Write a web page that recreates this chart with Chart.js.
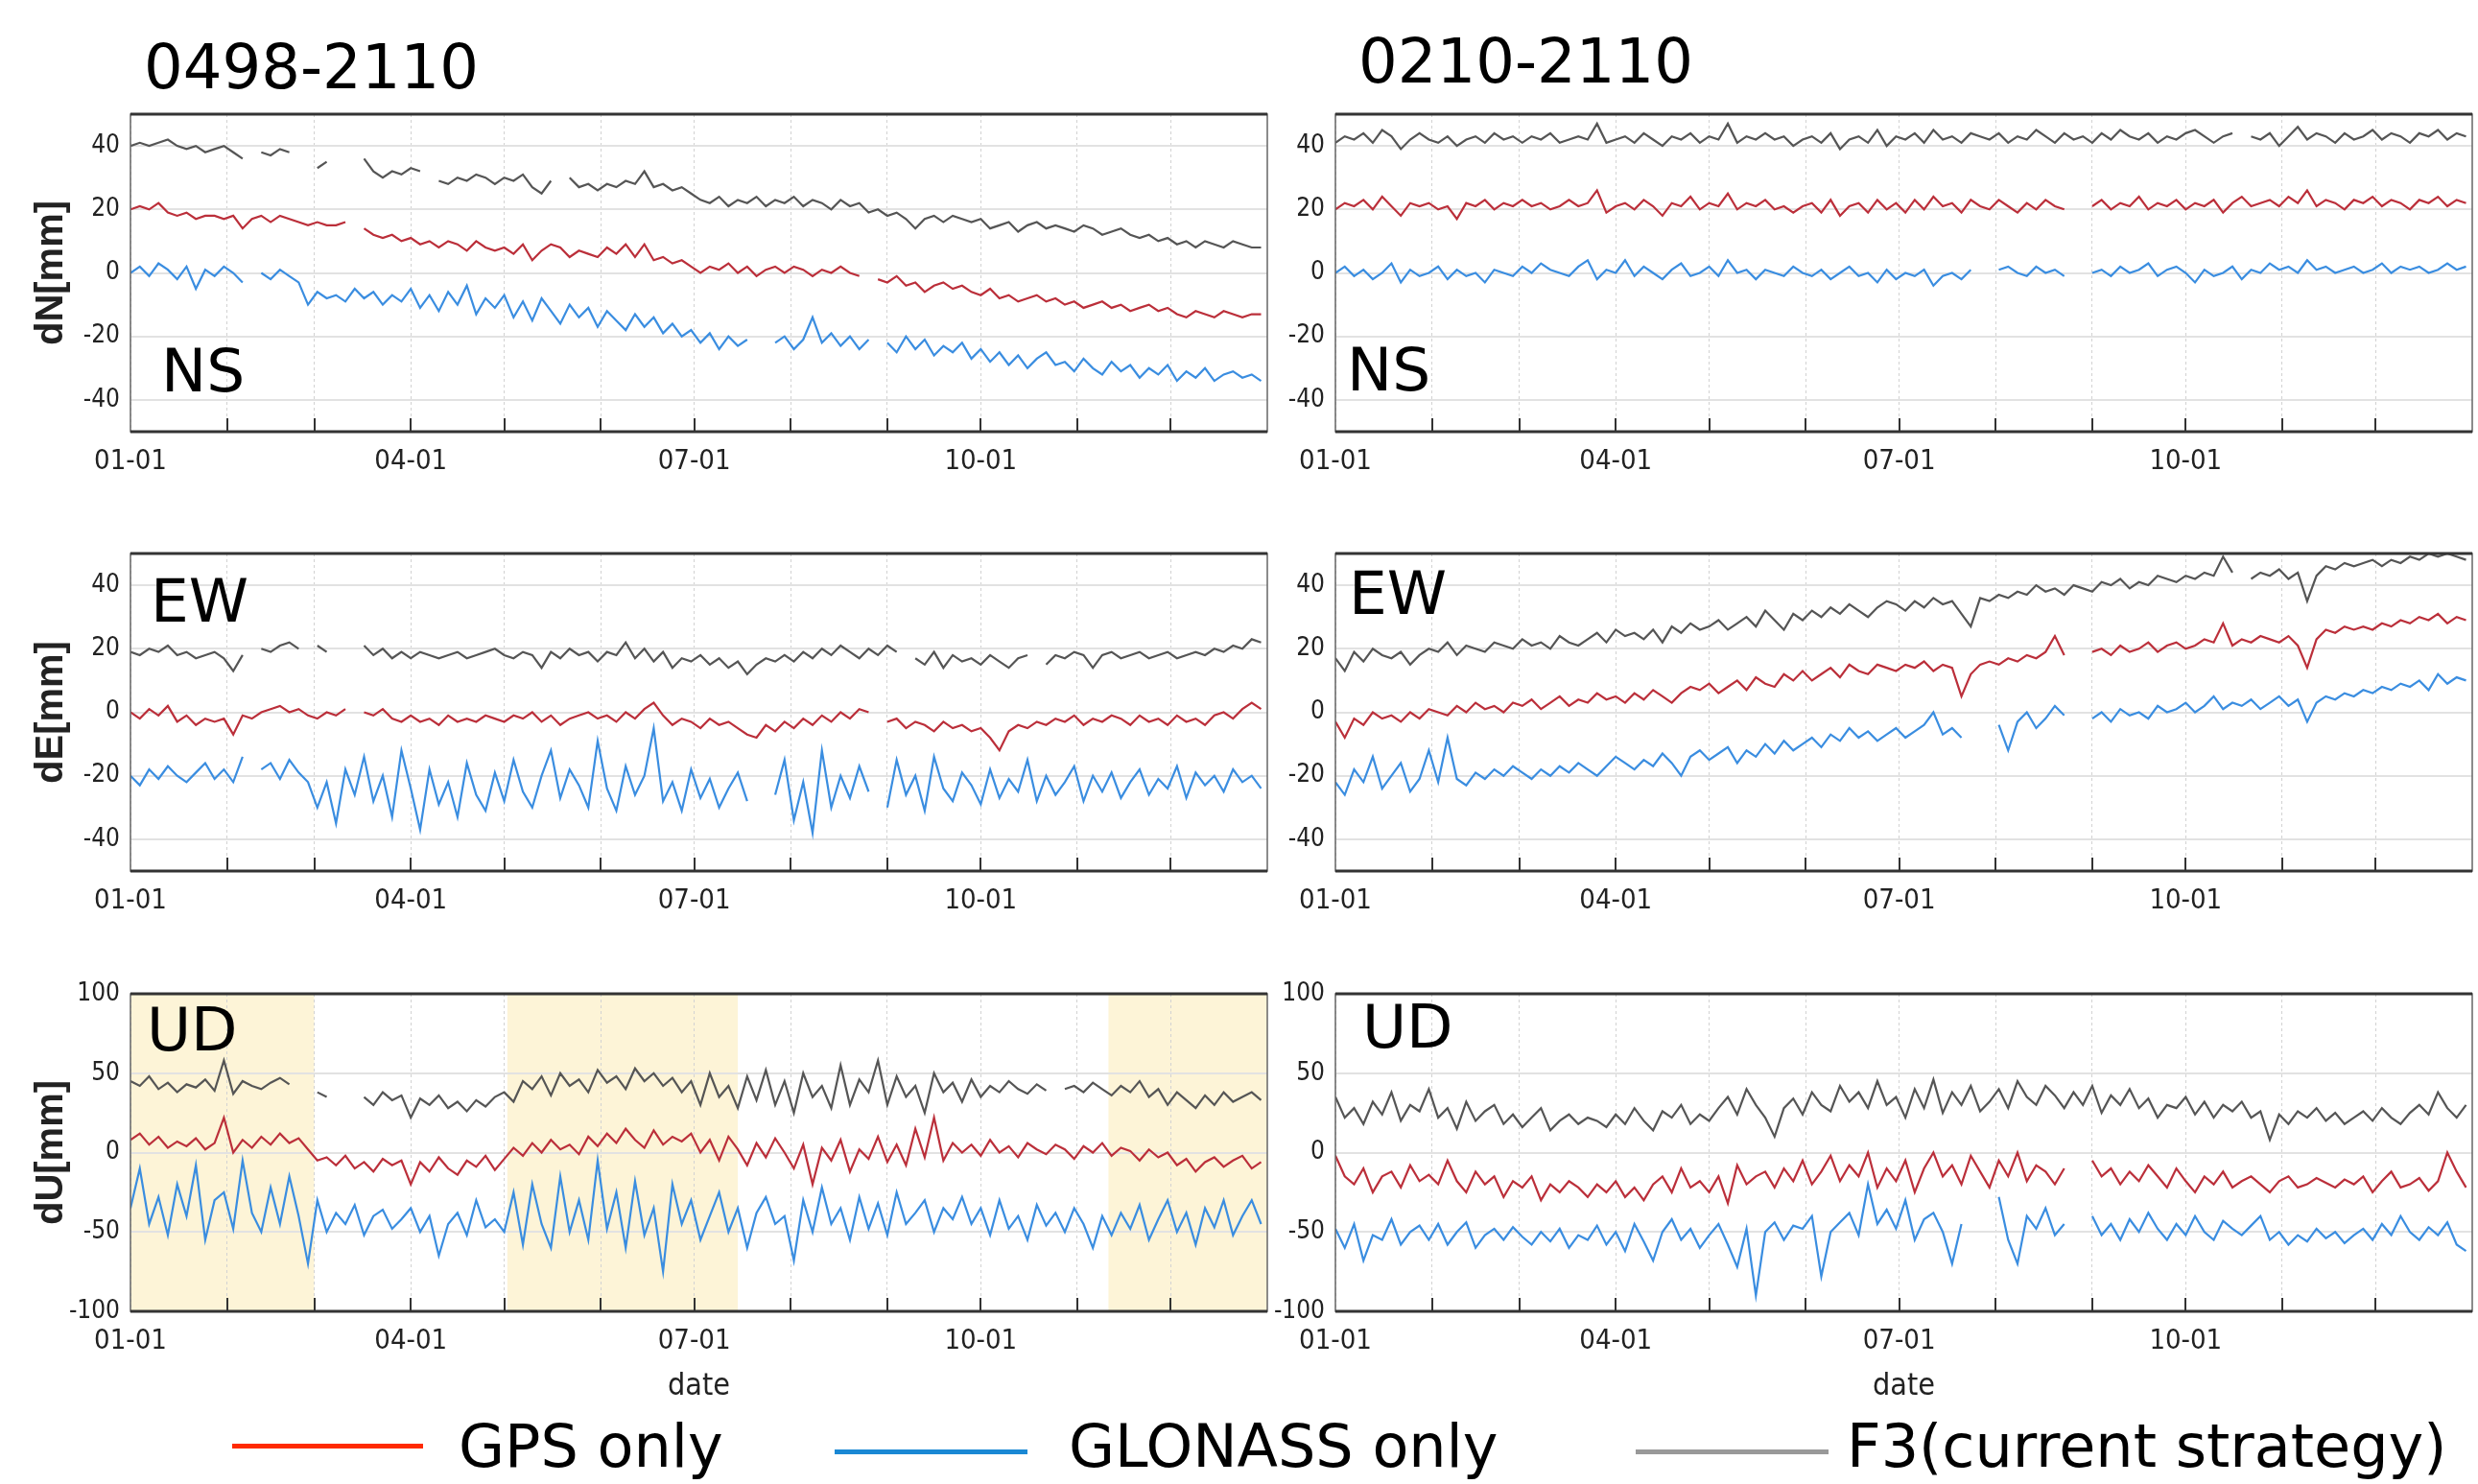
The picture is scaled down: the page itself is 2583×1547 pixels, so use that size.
<!DOCTYPE html>
<html>
<head>
<meta charset="utf-8">
<script src="https://cdn.jsdelivr.net/npm/chart.js@4.4.1/dist/chart.umd.min.js"></script>
<style>
  html, body { margin: 0; padding: 0; background: #fff; }
  body { position: relative; width: 2583px; height: 1547px; overflow: hidden; }
  canvas { position: absolute; }
  .txt { position: absolute; font-family: 'DejaVu Sans', Verdana, sans-serif; line-height: 1; color: #000; white-space: nowrap; z-index: 5; }
  .title { font-size: 64px; }
  .lab { font-size: 63px; }
  .leg { font-size: 62px; }
  .swatch { position: absolute; height: 5px; z-index: 5; }
</style>
</head>
<body>
<div class="txt title" style="left:150px;top:38px">0498-2110</div>
<div class="txt title" style="left:1416px;top:32px">0210-2110</div>

<div class="txt lab" style="left:168px;top:355px">NS</div>
<div class="txt lab" style="left:1404px;top:354px">NS</div>
<div class="txt lab" style="left:157px;top:595px">EW</div>
<div class="txt lab" style="left:1406px;top:587px">EW</div>
<div class="txt lab" style="left:153px;top:1042px">UD</div>
<div class="txt lab" style="left:1420px;top:1039px">UD</div>

<div class="swatch" style="left:242px;top:1505px;width:199px;background:#ff2a00"></div>
<div class="txt leg" style="left:478px;top:1477px">GPS only</div>
<div class="swatch" style="left:870px;top:1511px;width:201px;background:#1a88d4"></div>
<div class="txt leg" style="left:1114px;top:1477px">GLONASS only</div>
<div class="swatch" style="left:1705px;top:1511px;width:201px;background:#999"></div>
<div class="txt leg" style="left:1925px;top:1477px">F3(current strategy)</div>

<script>
// day of year (every third day)
const days = [
  0,3,6,9,12,15,18,21,24,27,
  30,33,36,39,42,45,48,51,54,57,
  60,63,66,69,72,75,78,81,84,87,
  90,93,96,99,102,105,108,111,114,117,
  120,123,126,129,132,135,138,141,144,147,
  150,153,156,159,162,165,168,171,174,177,
  180,183,186,189,192,195,198,201,204,207,
  210,213,216,219,222,225,228,231,234,237,
  240,243,246,249,252,255,258,261,264,267,
  270,273,276,279,282,285,288,291,294,297,
  300,303,306,309,312,315,318,321,324,327,
  330,333,336,339,342,345,348,351,354,357,
  360,363
];
const monthStarts = [0,31,59,90,120,151,181,212,243,273,304,334];
const quarterLabels = {0: '01-01', 90: '04-01', 181: '07-01', 273: '10-01'};
const neTicks = [-40,-20,0,20,40];
const udTicks = [-100,-50,0,50,100];
const udBandsA = [[0,59],[121,195],[314,365]];

// ---- 0498-2110 ----
const nsF3A = [
  40,41,40,41,42,40,39,40,38,39,
  40,38,36,null,38,37,39,38,null,null,
  33,35,null,null,null,36,32,30,32,31,
  33,32,null,29,28,30,29,31,30,28,
  30,29,31,27,25,29,null,30,27,28,
  26,28,27,29,28,32,27,28,26,27,
  25,23,22,24,21,23,22,24,21,23,
  22,24,21,23,22,20,23,21,22,19,
  20,18,19,17,14,17,18,16,18,17,
  16,17,14,15,16,13,15,16,14,15,
  14,13,15,14,12,13,14,12,11,12,
  10,11,9,10,8,10,9,8,10,9,
  8,8
];
const nsGpsA = [
  20,21,20,22,19,18,19,17,18,18,
  17,18,14,17,18,16,18,17,16,15,
  16,15,15,16,null,14,12,11,12,10,
  11,9,10,8,10,9,7,10,8,7,
  8,6,9,4,7,9,8,5,7,6,
  5,8,6,9,5,9,4,5,3,4,
  2,0,2,1,3,0,2,-1,1,2,
  0,2,1,-1,1,0,2,0,-1,null,
  -2,-3,-1,-4,-3,-6,-4,-3,-5,-4,
  -6,-7,-5,-8,-7,-9,-8,-7,-9,-8,
  -10,-9,-11,-10,-9,-11,-10,-12,-11,-10,
  -12,-11,-13,-14,-12,-13,-14,-12,-13,-14,
  -13,-13
];
const nsGloA = [
  0,2,-1,3,1,-2,2,-5,1,-1,
  2,0,-3,null,0,-2,1,-1,-3,-10,
  -6,-8,-7,-9,-5,-8,-6,-10,-7,-9,
  -5,-11,-7,-12,-6,-10,-4,-13,-8,-11,
  -7,-14,-9,-15,-8,-12,-16,-10,-14,-11,
  -17,-12,-15,-18,-13,-17,-14,-19,-16,-20,
  -18,-22,-19,-24,-20,-23,-21,null,null,-22,
  -20,-24,-21,-14,-22,-19,-23,-20,-24,-21,
  null,-22,-25,-20,-24,-21,-26,-23,-25,-22,
  -27,-24,-28,-25,-29,-26,-30,-27,-25,-29,
  -28,-31,-27,-30,-32,-28,-31,-29,-33,-30,
  -32,-29,-34,-31,-33,-30,-34,-32,-31,-33,
  -32,-34
];
const ewF3A = [
  19,18,20,19,21,18,19,17,18,19,
  17,13,18,null,20,19,21,22,20,null,
  21,19,null,null,null,21,18,20,17,19,
  17,19,18,17,18,19,17,18,19,20,
  18,17,19,18,14,19,17,20,18,19,
  16,19,18,22,17,20,16,19,14,17,
  16,18,15,17,14,16,12,15,17,16,
  18,16,19,17,20,18,21,19,17,20,
  18,21,19,null,17,15,19,14,18,16,
  17,15,18,16,14,17,18,null,15,18,
  17,19,18,14,18,19,17,18,19,17,
  18,19,17,18,19,18,20,19,21,20,
  23,22
];
const ewGpsA = [
  0,-2,1,-1,2,-3,-1,-4,-2,-3,
  -2,-7,-1,-2,0,1,2,0,1,-1,
  -2,0,-1,1,null,0,-1,1,-2,-3,
  -1,-3,-2,-4,-1,-3,-2,-3,-1,-2,
  -3,-1,-2,0,-3,-1,-4,-2,-1,0,
  -2,-1,-3,0,-2,1,3,-1,-4,-2,
  -3,-5,-2,-4,-3,-5,-7,-8,-4,-6,
  -3,-5,-2,-4,-1,-3,0,-2,1,0,
  null,-3,-2,-5,-3,-4,-6,-3,-5,-4,
  -6,-5,-8,-12,-6,-4,-5,-3,-4,-2,
  -3,-1,-4,-2,-3,-1,-2,-4,-1,-3,
  -2,-4,-1,-3,-2,-4,-1,0,-2,1,
  3,1
];
const ewGloA = [
  -20,-23,-18,-21,-17,-20,-22,-19,-16,-21,
  -18,-22,-14,null,-18,-16,-21,-15,-19,-22,
  -30,-22,-35,-18,-26,-14,-28,-20,-33,-12,
  -24,-37,-18,-29,-22,-33,-16,-26,-31,-19,
  -28,-15,-25,-30,-20,-12,-27,-18,-23,-30,
  -9,-24,-31,-17,-26,-20,-5,-28,-22,-31,
  -18,-27,-21,-30,-24,-19,-28,null,null,-26,
  -15,-34,-22,-38,-12,-30,-20,-27,-17,-25,
  null,-30,-15,-26,-20,-31,-14,-24,-28,-19,
  -23,-29,-18,-27,-21,-25,-15,-28,-20,-26,
  -22,-17,-28,-20,-25,-19,-27,-22,-18,-26,
  -21,-24,-17,-27,-19,-23,-20,-25,-18,-22,
  -20,-24
];
const udF3A = [
  45,42,48,40,44,38,43,41,46,39,
  58,37,45,42,40,44,47,43,null,null,
  38,35,null,null,null,35,30,38,33,36,
  22,34,30,36,28,32,26,33,29,35,
  38,32,45,40,48,36,50,42,46,38,
  52,44,48,40,53,45,50,42,47,38,
  45,30,50,35,42,28,48,33,52,30,
  45,25,50,35,42,28,55,30,46,38,
  58,30,48,35,42,25,50,38,44,32,
  46,35,42,38,45,40,37,43,39,null,
  40,42,38,44,40,36,42,38,45,35,
  40,30,38,33,28,36,30,38,32,35,
  38,33
];
const udGpsA = [
  8,12,5,10,3,7,4,9,2,6,
  22,0,8,3,10,5,12,6,9,2,
  -5,-3,-8,-2,-10,-6,-12,-4,-8,-5,
  -20,-6,-12,-3,-10,-14,-5,-9,-2,-11,
  -4,3,-2,6,0,8,2,5,-1,10,
  4,12,6,15,8,3,14,5,10,7,
  12,0,8,-5,10,2,-8,6,-3,9,
  0,-10,5,-20,3,-5,8,-12,2,-4,
  10,-6,5,-8,15,-3,22,-5,6,0,
  5,-2,8,0,4,-3,6,2,-1,5,
  2,-4,4,0,6,-2,3,1,-5,2,
  -3,0,-8,-4,-12,-6,-3,-9,-5,-2,
  -10,-6
];
const udGloA = [
  -35,-10,-45,-28,-52,-20,-40,-8,-55,-30,
  -25,-48,-5,-38,-50,-22,-45,-15,-40,-70,
  -30,-50,-38,-45,-33,-52,-40,-36,-48,-42,
  -35,-50,-40,-65,-45,-38,-52,-30,-47,-42,
  -50,-25,-58,-20,-45,-60,-15,-50,-30,-55,
  -5,-48,-25,-60,-18,-52,-35,-75,-20,-45,
  -30,-55,-40,-25,-50,-35,-60,-38,-28,-45,
  -40,-68,-30,-50,-22,-45,-35,-55,-28,-48,
  -32,-52,-25,-45,-38,-30,-50,-35,-42,-28,
  -45,-35,-52,-30,-48,-40,-55,-33,-46,-38,
  -50,-35,-45,-60,-40,-52,-38,-48,-33,-55,
  -42,-30,-50,-38,-58,-35,-47,-30,-52,-40,
  -30,-45
];

// ---- 0210-2110 ----
const nsF3B = [
  41,43,42,44,41,45,43,39,42,44,
  42,41,43,40,42,43,41,44,42,43,
  41,43,42,44,41,42,43,42,47,41,
  42,43,41,44,42,40,43,42,44,41,
  43,42,47,41,43,42,44,42,43,40,
  42,43,41,44,39,42,43,41,45,40,
  43,42,44,41,45,42,43,41,44,43,
  42,44,41,43,42,45,43,41,44,42,
  43,41,44,42,45,43,42,44,41,43,
  42,44,45,43,41,43,44,null,43,42,
  44,40,43,46,42,44,43,41,44,42,
  43,45,42,44,43,41,44,43,45,42,
  44,43
];
const nsGpsB = [
  20,22,21,23,20,24,21,18,22,21,
  22,20,21,17,22,21,23,20,22,21,
  23,21,22,20,21,23,21,22,26,19,
  21,22,20,23,21,18,22,21,24,20,
  22,21,25,20,22,21,23,20,21,19,
  21,22,19,23,18,21,22,19,23,20,
  22,19,23,20,24,21,22,19,23,21,
  20,23,21,19,22,20,23,21,20,null,
  null,21,23,20,22,21,24,20,22,21,
  23,20,22,21,23,19,22,24,21,22,
  23,21,24,22,26,21,23,22,20,23,
  22,24,21,23,22,20,23,22,24,21,
  23,22
];
const nsGloB = [
  0,2,-1,1,-2,0,3,-3,1,-1,
  0,2,-2,1,-1,0,-3,1,0,-1,
  2,0,3,1,0,-1,2,4,-2,1,
  0,4,-1,2,0,-2,1,3,-1,0,
  2,-1,4,0,1,-2,1,0,-1,2,
  0,-1,1,-2,0,2,-1,0,-3,1,
  -2,0,-1,1,-4,-1,0,-2,1,null,
  null,1,2,0,-1,2,0,1,-1,null,
  null,0,1,-1,2,0,1,3,-1,1,
  2,0,-3,1,-1,0,2,-2,1,0,
  3,1,2,0,4,1,2,0,1,2,
  0,1,3,0,2,1,2,0,1,3,
  1,2
];
const ewF3B = [
  17,13,19,16,20,18,17,19,15,18,
  20,19,22,18,21,20,19,22,21,20,
  23,21,22,20,24,22,21,23,25,22,
  26,24,25,23,26,22,27,25,28,26,
  27,29,26,28,30,27,32,29,26,31,
  29,32,30,33,31,34,32,30,33,35,
  34,32,35,33,36,34,35,31,27,36,
  35,37,36,38,37,40,38,39,37,40,
  39,38,41,40,42,39,41,40,43,42,
  41,43,42,44,43,49,44,null,42,44,
  43,45,42,44,35,43,46,45,47,46,
  47,48,46,48,47,49,48,50,49,50,
  49,48
];
const ewGpsB = [
  -3,-8,-2,-4,0,-2,-1,-3,0,-2,
  1,0,-1,2,0,3,1,2,0,3,
  2,4,1,3,5,2,4,3,6,4,
  5,3,6,4,7,5,3,6,8,7,
  9,6,8,10,7,11,9,8,12,10,
  13,10,12,14,11,15,13,12,15,14,
  13,15,14,16,13,15,14,5,12,15,
  16,15,17,16,18,17,19,24,18,null,
  null,19,20,18,21,19,20,22,19,21,
  22,20,21,23,22,28,21,23,22,24,
  23,22,24,21,14,23,26,25,27,26,
  27,26,28,27,29,28,30,29,31,28,
  30,29
];
const ewGloB = [
  -22,-26,-18,-22,-14,-24,-20,-16,-25,-21,
  -12,-22,-8,-21,-23,-19,-21,-18,-20,-17,
  -19,-21,-18,-20,-17,-19,-16,-18,-20,-17,
  -14,-16,-18,-15,-17,-13,-16,-20,-14,-12,
  -15,-13,-11,-16,-12,-14,-10,-13,-9,-12,
  -10,-8,-11,-7,-9,-5,-8,-6,-9,-7,
  -5,-8,-6,-4,0,-7,-5,-8,null,null,
  null,-4,-12,-3,0,-5,-2,2,-1,null,
  null,-2,0,-3,1,-1,0,-2,2,0,
  1,3,0,2,5,1,3,2,4,1,
  3,5,2,4,-3,3,5,4,6,5,
  7,6,8,7,9,8,10,7,12,9,
  11,10
];
const udF3B = [
  35,22,28,18,32,24,38,20,30,26,
  40,22,28,15,32,20,26,30,18,24,
  16,22,28,14,20,24,18,22,20,16,
  24,18,28,20,14,26,22,30,18,24,
  20,28,35,24,40,30,22,10,28,34,
  24,38,30,26,42,32,38,28,45,30,
  35,22,40,28,46,25,38,30,42,26,
  32,40,28,45,35,30,42,36,28,38,
  30,42,25,36,30,40,28,34,22,30,
  28,35,24,32,22,30,26,32,22,26,
  8,24,18,26,22,28,20,25,18,22,
  26,20,28,22,18,25,30,24,38,28,
  22,30
];
const udGpsB = [
  -2,-15,-20,-10,-25,-15,-12,-22,-8,-18,
  -14,-20,-5,-18,-25,-12,-20,-15,-28,-18,
  -22,-15,-30,-20,-25,-18,-22,-28,-20,-25,
  -18,-28,-22,-30,-20,-15,-25,-10,-22,-18,
  -25,-15,-32,-8,-20,-15,-12,-22,-10,-18,
  -5,-20,-12,-2,-18,-8,-15,0,-22,-10,
  -18,-5,-25,-10,0,-15,-8,-20,-2,-12,
  -22,-5,-15,0,-18,-8,-12,-20,-10,null,
  null,-5,-15,-10,-20,-12,-18,-8,-15,-22,
  -10,-18,-25,-15,-20,-12,-22,-18,-15,-20,
  -25,-18,-15,-22,-20,-16,-19,-22,-17,-20,
  -15,-25,-18,-12,-22,-20,-16,-24,-18,0,
  -12,-22
];
const udGloB = [
  -48,-60,-45,-68,-52,-55,-42,-58,-50,-46,
  -55,-45,-58,-50,-44,-60,-52,-48,-55,-47,
  -53,-58,-50,-56,-48,-60,-52,-55,-46,-58,
  -50,-62,-45,-56,-68,-50,-42,-55,-48,-60,
  -52,-45,-58,-72,-48,-90,-50,-44,-55,-46,
  -48,-40,-78,-50,-44,-38,-52,-20,-45,-36,
  -48,-30,-55,-42,-38,-50,-70,-45,null,null,
  null,-28,-55,-70,-40,-48,-35,-52,-45,null,
  null,-40,-52,-45,-55,-42,-50,-38,-48,-55,
  -45,-52,-40,-50,-55,-43,-48,-52,-46,-40,
  -55,-50,-58,-52,-56,-48,-54,-50,-57,-52,
  -48,-55,-45,-52,-40,-50,-55,-47,-52,-44,
  -58,-62
];

const narrow = "'Liberation Sans Narrow', 'DejaVu Sans Condensed', 'Liberation Sans', Arial, sans-serif";
const GRAY = '#555555', RED = '#bb2f3a', BLUE = '#3a8de0';

const panelDecor = {
  id: 'panelDecor',
  beforeDraw(chart, args, opts) {
    const {ctx, chartArea: a, scales: {x}} = chart;
    ctx.save();
    ctx.fillStyle = '#fdf4d7';
    (opts.bands || []).forEach(([d0, d1]) => {
      const x0 = x.getPixelForValue(d0), x1 = x.getPixelForValue(d1);
      ctx.fillRect(x0, a.top, x1 - x0, a.bottom - a.top);
    });
    ctx.restore();
  },
  afterDatasetsDraw(chart) {
    const {ctx, chartArea: a, scales: {x}} = chart;
    ctx.save();
    ctx.strokeStyle = '#333';
    ctx.lineWidth = 2;
    monthStarts.forEach(d => {
      if (d === 0) return;
      const px = Math.round(x.getPixelForValue(d));
      ctx.beginPath();
      ctx.moveTo(px, a.bottom);
      ctx.lineTo(px, a.bottom - 14);
      ctx.stroke();
    });
    ctx.lineWidth = 1.5;
    ctx.strokeStyle = '#666';
    ctx.strokeRect(a.left, a.top, a.right - a.left, a.bottom - a.top);
    ctx.lineWidth = 3;
    ctx.strokeStyle = '#333';
    ctx.beginPath();
    ctx.moveTo(a.left, a.top); ctx.lineTo(a.right, a.top);
    ctx.moveTo(a.left, a.bottom); ctx.lineTo(a.right, a.bottom);
    ctx.stroke();
    ctx.restore();
  }
};

const colLeft = [136, 1392];
const rowTop = [119, 577, 1036];
const plotW = 1185, plotH = 331, yAxisW = 110, padTop = 20, padRight = 10;

const panels = [
  {col: 0, row: 0, yTitle: 'dN[mm]', range: 50, ticks: neTicks, f3: nsF3A, gps: nsGpsA, glo: nsGloA},
  {col: 1, row: 0, yTitle: '', range: 50, ticks: neTicks, f3: nsF3B, gps: nsGpsB, glo: nsGloB},
  {col: 0, row: 1, yTitle: 'dE[mm]', range: 50, ticks: neTicks, f3: ewF3A, gps: ewGpsA, glo: ewGloA},
  {col: 1, row: 1, yTitle: '', range: 50, ticks: neTicks, f3: ewF3B, gps: ewGpsB, glo: ewGloB},
  {col: 0, row: 2, yTitle: 'dU[mm]', range: 100, ticks: udTicks, f3: udF3A, gps: udGpsA, glo: udGloA, bands: udBandsA},
  {col: 1, row: 2, yTitle: '', range: 100, ticks: udTicks, f3: udF3B, gps: udGpsB, glo: udGloB}
];

function pts(vals) {
  return days.map((d, i) => ({x: d, y: vals[i]}));
}

panels.forEach(p => {
  const bottomRow = p.row === 2;
  const xH = bottomRow ? 100 : 60;
  const cv = document.createElement('canvas');
  cv.width = yAxisW + plotW + padRight;
  cv.height = padTop + plotH + xH;
  cv.style.left = (colLeft[p.col] - yAxisW) + 'px';
  cv.style.top = (rowTop[p.row] - padTop) + 'px';
  document.body.appendChild(cv);

  new Chart(cv.getContext('2d'), {
    type: 'line',
    data: {
      datasets: [
        {label: 'F3(current strategy)', data: pts(p.f3), borderColor: GRAY},
        {label: 'GPS only', data: pts(p.gps), borderColor: RED},
        {label: 'GLONASS only', data: pts(p.glo), borderColor: BLUE}
      ]
    },
    options: {
      responsive: false,
      animation: false,
      layout: {padding: {top: padTop, right: padRight, left: 0, bottom: 0}},
      elements: {point: {radius: 0}, line: {borderWidth: 2.2, tension: 0}},
      plugins: {
        legend: {display: false},
        tooltip: {enabled: false},
        panelDecor: {bands: p.bands || []}
      },
      scales: {
        x: {
          type: 'linear', min: 0, max: 365,
          afterBuildTicks: s => { s.ticks = monthStarts.map(v => ({value: v})); },
          afterFit: s => { s.height = xH; s.paddingLeft = 0; s.paddingRight = 0; },
          ticks: {
            autoSkip: false, maxRotation: 0, padding: 14, color: '#222',
            font: {family: narrow, size: 29},
            callback: v => quarterLabels[v] || ''
          },
          grid: {color: '#d2d2d2', lineWidth: 1, drawTicks: false},
          border: {display: false, dash: [3, 3]},
          title: {
            display: bottomRow, text: 'date', color: '#222',
            font: {family: narrow, size: 32}, padding: {top: 0, bottom: 2}
          }
        },
        y: {
          min: -p.range, max: p.range,
          afterBuildTicks: s => { s.ticks = p.ticks.map(v => ({value: v})); },
          afterFit: s => { s.width = yAxisW; s.paddingTop = 0; s.paddingBottom = 0; },
          ticks: {padding: 11, color: '#222', font: {family: narrow, size: 26}},
          grid: {color: '#e2e2e2', lineWidth: 2, drawTicks: false},
          border: {display: false},
          title: {
            display: !!p.yTitle, text: p.yTitle, color: '#222',
            font: {family: "'Liberation Sans', Arial, sans-serif", size: 40, weight: 'bold'},
            padding: {top: 4, bottom: 0}
          }
        }
      }
    },
    plugins: [panelDecor]
  });
});
</script>
</body>
</html>
